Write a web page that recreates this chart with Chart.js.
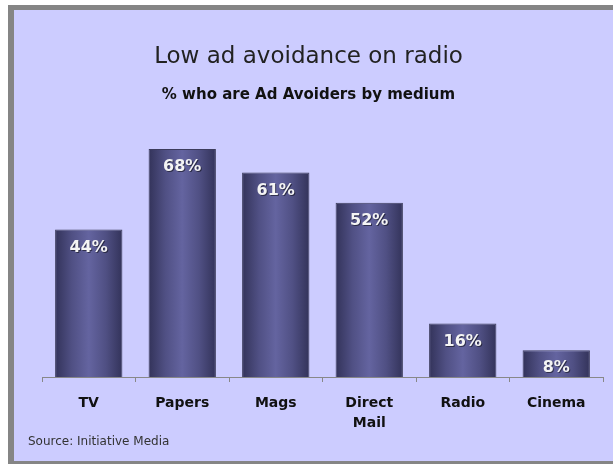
<!DOCTYPE html>
<html>
<head>
<meta charset="utf-8">
<script src="https://cdn.jsdelivr.net/npm/chart.js@4.4.0/dist/chart.umd.min.js"></script>
<style>
  body { margin: 0; background: #fff; }
  #frame {
    position: absolute; left: 8px; top: 5px; width: 620px; height: 451px;
    background: #ccccff;
    border-left: 6px solid #858585; border-top: 5px solid #858585; border-bottom: 4px solid #858585;
  }
  #chart { position: absolute; left: 0; top: 0; }
  #source {
    position: absolute; left: 28px; top: 434px;
    font: 12px "DejaVu Sans", sans-serif; color: #333;
  }
</style>
</head>
<body>
<div id="frame"></div>
<canvas id="chart" width="613" height="464"></canvas>
<div id="source">Source: Initiative Media</div>
<script>
const categories = ["TV", "Papers", "Mags", ["Direct", "Mail"], "Radio", "Cinema"];
const avoiders = [44, 68, 61, 52, 16, 8];

// bars are darker at the edges, lighter in the middle
function barGradient(ctx) {
  const chart = ctx.chart;
  if (!chart.chartArea) return '#55558a';
  const xs = chart.scales.x;
  const w = (chart.chartArea.right - chart.chartArea.left) / categories.length * 0.72;
  const cx = xs.getPixelForValue(ctx.dataIndex);
  const g = chart.ctx.createLinearGradient(cx - w / 2, 0, cx + w / 2, 0);
  g.addColorStop(0, '#33335a');
  g.addColorStop(0.25, '#505084');
  g.addColorStop(0.5, '#6464a0');
  g.addColorStop(0.75, '#505084');
  g.addColorStop(1, '#33335a');
  return g;
}

const valueLabels = {
  id: 'valueLabels',
  afterDatasetsDraw(chart) {
    const c = chart.ctx;
    c.save();
    c.font = 'bold 16px "DejaVu Sans", sans-serif';
    c.textAlign = 'center';
    c.textBaseline = 'middle';
    c.shadowColor = 'rgba(0,0,0,0.5)';
    c.shadowOffsetX = 1;
    c.shadowOffsetY = 1;
    c.fillStyle = '#f4f4f4';
    chart.getDatasetMeta(0).data.forEach((bar, i) => {
      c.fillText(avoiders[i] + '%', bar.x, bar.y + 18);
    });
    c.restore();
  }
};

new Chart(document.getElementById('chart'), {
  type: 'bar',
  data: {
    labels: categories,
    datasets: [{
      data: avoiders,
      backgroundColor: barGradient,
      borderColor: '#3c3c5c',
      borderWidth: 1,
      barPercentage: 0.72,
      categoryPercentage: 1
    }]
  },
  options: {
    responsive: false,
    animation: false,
    layout: { padding: { top: 10, left: 14, right: 10, bottom: 0 } },
    scales: {
      x: {
        grid: { display: true, drawOnChartArea: false, drawTicks: true, tickLength: 5, tickColor: '#888', offset: true },
        border: { display: true, color: '#888', width: 1 },
        ticks: {
          color: '#111',
          padding: 11,
          font: { family: '"DejaVu Sans", sans-serif', size: 14, weight: 'bold', lineHeight: 1.43 }
        },
        afterFit(scale) { scale.height = 87; }
      },
      y: {
        min: 0,
        max: 78,
        grid: { display: false },
        border: { display: false },
        ticks: { display: false },
        afterFit(scale) { scale.width = 28; }
      }
    },
    plugins: {
      legend: { display: false },
      tooltip: { enabled: false },
      title: {
        display: true,
        text: 'Low ad avoidance on radio',
        color: '#222',
        font: { family: '"DejaVu Sans", sans-serif', size: 23, weight: 'normal' },
        padding: { top: 33, bottom: 16 }
      },
      subtitle: {
        display: true,
        text: '% who are Ad Avoiders by medium',
        color: '#111',
        font: { family: '"DejaVu Sans", sans-serif', size: 15, weight: 'bold' },
        padding: { top: 0, bottom: 11 }
      }
    }
  },
  plugins: [valueLabels]
});
</script>
</body>
</html>
